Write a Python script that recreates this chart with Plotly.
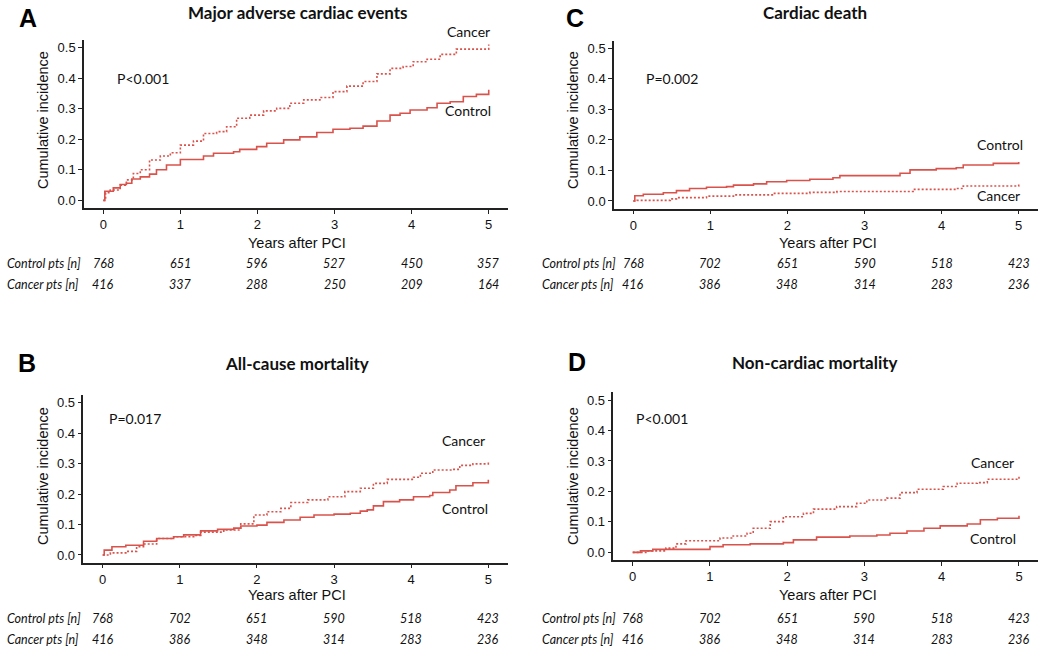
import plotly.graph_objects as go

W, H = 1050, 651
RED = "#D9534C"

# ---------------- data ----------------
years = [0, 1, 2, 3, 4, 5]

# A: Major adverse cardiac events
mace_ctrl_t = [0, 0.02, 0.13, 0.22, 0.3, 0.37, 0.48, 0.6, 0.69, 0.82, 1.0, 1.19, 1.3, 1.43, 1.69, 1.77, 1.99, 2.12, 2.34, 2.55, 2.77, 2.98, 3.2, 3.37, 3.55, 3.72, 3.85, 3.98, 4.2, 4.33, 4.5, 4.67, 4.84, 5.0]
mace_ctrl_y = [0, 0.03, 0.041, 0.052, 0.056, 0.07, 0.077, 0.086, 0.10, 0.116, 0.134, 0.134, 0.145, 0.154, 0.159, 0.167, 0.176, 0.187, 0.198, 0.208, 0.222, 0.233, 0.236, 0.243, 0.26, 0.279, 0.285, 0.296, 0.303, 0.318, 0.323, 0.34, 0.347, 0.362]
mace_canc_t = [0, 0.03, 0.09, 0.22, 0.3, 0.39, 0.48, 0.6, 0.74, 0.87, 1.0, 1.17, 1.3, 1.47, 1.6, 1.73, 1.9, 2.08, 2.25, 2.42, 2.6, 2.81, 2.98, 3.16, 3.37, 3.55, 3.72, 3.89, 4.02, 4.2, 4.37, 4.58, 4.8, 5.0]
mace_canc_y = [0, 0.025, 0.034, 0.05, 0.067, 0.088, 0.10, 0.132, 0.145, 0.156, 0.181, 0.194, 0.219, 0.225, 0.241, 0.269, 0.279, 0.293, 0.301, 0.318, 0.329, 0.337, 0.356, 0.374, 0.389, 0.414, 0.432, 0.438, 0.454, 0.462, 0.478, 0.495, 0.495, 0.51]

# C: Cardiac death
cd_ctrl_t = [0, 0.02, 0.13, 0.39, 0.56, 0.73, 0.95, 1.21, 1.3, 1.56, 1.73, 1.99, 2.29, 2.59, 2.68, 3.37, 3.46, 3.59, 3.93, 4.19, 4.28, 4.67, 5.0]
cd_ctrl_y = [0, 0.017, 0.022, 0.027, 0.034, 0.041, 0.045, 0.047, 0.052, 0.056, 0.063, 0.067, 0.071, 0.076, 0.083, 0.083, 0.091, 0.102, 0.106, 0.109, 0.118, 0.123, 0.128]
cd_canc_t = [0, 0.05, 0.48, 0.56, 0.95, 1.3, 1.82, 2.29, 2.64, 3.63, 4.19, 4.28, 5.0]
cd_canc_y = [0, 0.002, 0.007, 0.011, 0.016, 0.02, 0.025, 0.028, 0.031, 0.038, 0.041, 0.049, 0.054]

# B: All-cause mortality
acm_ctrl_t = [0, 0.02, 0.12, 0.3, 0.53, 0.7, 0.92, 1.05, 1.27, 1.49, 1.7, 1.79, 2.0, 2.13, 2.35, 2.56, 2.74, 3.0, 3.21, 3.34, 3.43, 3.51, 3.64, 3.85, 4.03, 4.24, 4.28, 4.5, 4.58, 4.8, 5.0]
acm_ctrl_y = [0, 0.016, 0.027, 0.032, 0.045, 0.054, 0.06, 0.066, 0.079, 0.084, 0.088, 0.095, 0.098, 0.107, 0.115, 0.124, 0.131, 0.134, 0.137, 0.144, 0.148, 0.161, 0.175, 0.181, 0.191, 0.195, 0.205, 0.213, 0.227, 0.237, 0.247]
acm_canc_t = [0, 0.1, 0.3, 0.44, 0.53, 0.7, 0.92, 1.18, 1.27, 1.57, 1.79, 1.96, 2.13, 2.31, 2.44, 2.66, 2.92, 3.14, 3.34, 3.51, 3.69, 4.03, 4.12, 4.28, 4.54, 4.63, 4.8, 5.0]
acm_canc_y = [0, 0.007, 0.012, 0.027, 0.036, 0.054, 0.06, 0.064, 0.075, 0.082, 0.102, 0.131, 0.142, 0.153, 0.172, 0.181, 0.191, 0.208, 0.219, 0.235, 0.248, 0.255, 0.268, 0.279, 0.281, 0.294, 0.299, 0.308]

# D: Non-cardiac mortality
ncm_ctrl_t = [0, 0.1, 0.26, 1.0, 1.17, 1.52, 1.95, 2.08, 2.38, 2.81, 3.16, 3.33, 3.55, 3.77, 3.98, 4.33, 4.5, 4.72, 5.0]
ncm_ctrl_y = [0, 0.005, 0.01, 0.019, 0.025, 0.028, 0.032, 0.041, 0.05, 0.054, 0.057, 0.063, 0.07, 0.079, 0.087, 0.093, 0.107, 0.112, 0.12]
ncm_canc_t = [0, 0.17, 0.43, 0.56, 0.69, 1.13, 1.3, 1.48, 1.56, 1.78, 1.95, 2.21, 2.34, 2.64, 2.9, 3.03, 3.29, 3.46, 3.68, 4.02, 4.2, 4.46, 4.59, 5.0]
ncm_canc_y = [0, 0.005, 0.014, 0.028, 0.038, 0.047, 0.054, 0.063, 0.079, 0.101, 0.117, 0.128, 0.142, 0.15, 0.161, 0.172, 0.178, 0.196, 0.207, 0.216, 0.227, 0.229, 0.24, 0.254]

# numbers at risk
ctrl_risk_A = [768, 651, 596, 527, 450, 357]
canc_risk_A = [416, 337, 288, 250, 209, 164]
ctrl_risk_BCD = [768, 702, 651, 590, 518, 423]
canc_risk_BCD = [416, 386, 348, 314, 283, 236]

titles = ["Major adverse cardiac events", "Cardiac death", "All-cause mortality", "Non-cardiac mortality"]
letters = ["A", "C", "B", "D"]
pvals = ["P<0.001", "P=0.002", "P=0.017", "P<0.001"]

# ---------------- layout helpers ----------------
def px_x(x):
    return x / W

def px_y(y):
    return 1 - y / H

panels = [
    dict(ax="", xd=(84, 508), yd=(40, 208), ctrl=(mace_ctrl_t, mace_ctrl_y), canc=(mace_canc_t, mace_canc_y),
         title=(297, 12), letter=(28, 18), ytitle=(43, 120), xtitle=(297, 243), rows=(263, 284), rowx=5,
         risk=(ctrl_risk_A, canc_risk_A), pv=(115, 79),
         lab_canc=(468, 32), lab_ctrl=(468, 110)),
    dict(ax="2", xd=(614, 1038), yd=(40.7, 208.6), ctrl=(cd_ctrl_t, cd_ctrl_y), canc=(cd_canc_t, cd_canc_y),
         title=(815, 12), letter=(575, 18), ytitle=(573, 120), xtitle=(828, 243), rows=(263, 284), rowx=540,
         risk=(ctrl_risk_BCD, canc_risk_BCD), pv=(644, 79),
         lab_canc=(998, 196), lab_ctrl=(1000, 144)),
    dict(ax="3", xd=(83.4, 507.6), yd=(395, 562.6), ctrl=(acm_ctrl_t, acm_ctrl_y), canc=(acm_canc_t, acm_canc_y),
         title=(297, 363), letter=(27, 363), ytitle=(43, 476), xtitle=(297, 595), rows=(618, 639), rowx=5,
         risk=(ctrl_risk_BCD, canc_risk_BCD), pv=(107, 418),
         lab_canc=(463, 441), lab_ctrl=(465, 508)),
    dict(ax="4", xd=(613.4, 1038.3), yd=(392.4, 560), ctrl=(ncm_ctrl_t, ncm_ctrl_y), canc=(ncm_canc_t, ncm_canc_y),
         title=(815, 362), letter=(577, 362), ytitle=(573, 476), xtitle=(828, 595), rows=(618, 639), rowx=540,
         risk=(ctrl_risk_BCD, canc_risk_BCD), pv=(634, 418),
         lab_canc=(992, 462), lab_ctrl=(993, 538)),
]

fig = go.Figure()
annotations = []
LATO = "Lato, 'Open Sans', sans-serif"
ARIAL = "Liberation Sans, Arial, sans-serif"

layout_axes = {}
for i, p in enumerate(panels):
    xa = "x" + p["ax"]
    ya = "y" + p["ax"]
    t, y = p["ctrl"]
    fig.add_trace(go.Scatter(x=t, y=y, mode="lines", line=dict(color=RED, width=1.6, shape="hv"),
                             xaxis=xa, yaxis=ya, showlegend=False, hoverinfo="skip"))
    t, y = p["canc"]
    fig.add_trace(go.Scatter(x=t, y=y, mode="lines", line=dict(color=RED, width=1.6, shape="hv", dash="2px,2px"),
                             xaxis=xa, yaxis=ya, showlegend=False, hoverinfo="skip"))

    axis_common = dict(showline=True, linecolor="#222", linewidth=1.5, ticks="outside", ticklen=4,
                       tickwidth=1.2, tickcolor="#222", showgrid=False, zeroline=False,
                       tickfont=dict(family=ARIAL, size=13, color="#111"))
    layout_axes["xaxis" + p["ax"]] = dict(axis_common, domain=[px_x(p["xd"][0]), px_x(p["xd"][1])],
                                          range=[-0.25, 5.25], tickvals=years, anchor=ya)
    layout_axes["yaxis" + p["ax"]] = dict(axis_common, domain=[px_y(p["yd"][1]), px_y(p["yd"][0])],
                                          range=[-0.025, 0.525], tickvals=[0, 0.1, 0.2, 0.3, 0.4, 0.5],
                                          ticktext=["0.0", "0.1", "0.2", "0.3", "0.4", "0.5"], anchor=xa)

    # title
    annotations.append(dict(text="<b>" + titles[i] + "</b>", x=px_x(p["title"][0]), y=px_y(p["title"][1]),
                            xref="paper", yref="paper", showarrow=False, xanchor="center", yanchor="middle",
                            font=dict(family=LATO, size=17, color="#111")))
    annotations.append(dict(text="<b>" + letters[i] + "</b>", x=px_x(p["letter"][0]), y=px_y(p["letter"][1]),
                            xref="paper", yref="paper", showarrow=False, xanchor="center", yanchor="middle",
                            font=dict(family=ARIAL, size=25, color="#000")))
    annotations.append(dict(text="Cumulative incidence", x=px_x(p["ytitle"][0]), y=px_y(p["ytitle"][1]),
                            xref="paper", yref="paper", showarrow=False, textangle=-90,
                            xanchor="center", yanchor="middle",
                            font=dict(family=ARIAL, size=14.5, color="#111")))
    annotations.append(dict(text="Years after PCI", x=px_x(p["xtitle"][0]), y=px_y(p["xtitle"][1]),
                            xref="paper", yref="paper", showarrow=False, xanchor="center", yanchor="middle",
                            font=dict(family=ARIAL, size=14.5, color="#111")))
    annotations.append(dict(text=pvals[i], x=px_x(p["pv"][0]), y=px_y(p["pv"][1]),
                            xref="paper", yref="paper", showarrow=False, xanchor="left", yanchor="middle",
                            font=dict(family=LATO, size=14, color="#111")))
    annotations.append(dict(text="Cancer", x=px_x(p["lab_canc"][0]), y=px_y(p["lab_canc"][1]),
                            xref="paper", yref="paper", showarrow=False, xanchor="center", yanchor="middle",
                            font=dict(family=LATO, size=14, color="#111")))
    annotations.append(dict(text="Control", x=px_x(p["lab_ctrl"][0]), y=px_y(p["lab_ctrl"][1]),
                            xref="paper", yref="paper", showarrow=False, xanchor="center", yanchor="middle",
                            font=dict(family=LATO, size=14, color="#111")))
    # risk table
    for row_label, row_vals, ry in (("Control pts [n]", p["risk"][0], p["rows"][0]),
                                     ("Cancer pts [n]", p["risk"][1], p["rows"][1])):
        annotations.append(dict(text="<i>" + row_label + "</i>", x=px_x(p["rowx"]), y=px_y(ry),
                                xref="paper", yref="paper", showarrow=False, xanchor="left", yanchor="middle",
                                font=dict(family=LATO, size=12.5, color="#111")))
        for yr, v in zip(years, row_vals):
            annotations.append(dict(text="<i>" + str(v) + "</i>", x=yr, y=px_y(ry),
                                    xref=xa, yref="paper", showarrow=False, xanchor="center", yanchor="middle",
                                    font=dict(family=LATO, size=12.5, color="#111")))

fig.update_layout(width=W, height=H, margin=dict(l=0, r=0, t=0, b=0),
                  paper_bgcolor="white", plot_bgcolor="white",
                  annotations=annotations, **layout_axes)

fig.write_html("out.html", config={"displayModeBar": False},
               post_script="document.body.style.margin='0';document.body.style.overflow='hidden';")
